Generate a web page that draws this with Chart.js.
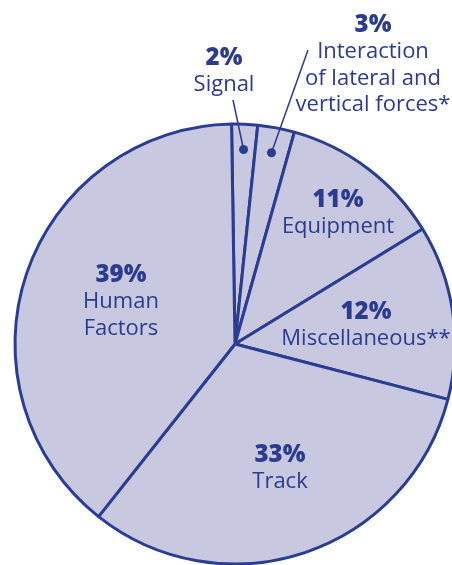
<!DOCTYPE html>
<html>
<head>
<meta charset="utf-8">
<script src="https://cdn.jsdelivr.net/npm/chart.js@4"></script>
<style>
  html, body { margin: 0; padding: 0; background: #fff; overflow: hidden; }
  #wrap { width: 452px; height: 565px; overflow: hidden; position: relative; }
  canvas { position: absolute; left: 0; top: 0; }
</style>
</head>
<body>
<div id="wrap"><canvas id="causeChart" width="470" height="565"></canvas></div>
<script>
// slice sizes as drawn in the picture (share of the circle, %)
const categories = ["Signal", "Interaction of lateral and vertical forces*", "Equipment", "Miscellaneous**", "Track", "Human Factors"];
const sliceValues = [1.9, 2.7, 11.9, 12.8, 31.6, 39.1];
// printed percentages
const percentLabels = ["2%", "3%", "11%", "12%", "33%", "39%"];
const nameLines = [
  ["Signal"],
  ["Interaction", "of lateral and", "vertical forces*"],
  ["Equipment"],
  ["Miscellaneous**"],
  ["Track"],
  ["Human", "Factors"],
];

const INK = "#2a3b90";
const FONT = "'Open Sans', sans-serif";

// where each label block sits, relative to the pie centre (px)
const labelSpots = [
  { x: -11, y: -286, lead: [-2, -244] },
  { x: 138, y: -319, lead: [73, -294] },
  { x: 103, y: -144 },
  { x: 131, y: -32 },
  { x: 45, y: 111 },
  { x: -114, y: -69 },
];

const pieLabels = {
  id: "pieLabels",
  afterDraw(chart) {
    const ctx = chart.ctx;
    const arcs = chart.getDatasetMeta(0).data;
    ctx.save();
    ctx.fillStyle = INK;
    ctx.strokeStyle = INK;
    ctx.textAlign = "center";
    ctx.textBaseline = "middle";
    arcs.forEach((arc, i) => {
      const spot = labelSpots[i];
      const cx = arc.x, cy = arc.y;
      if (spot.lead) {
        // leader line to a dot inside the thin slice
        const mid = (arc.startAngle + arc.endAngle) / 2;
        const r = arc.outerRadius * 0.885;
        const dx = cx + Math.cos(mid) * r;
        const dy = cy + Math.sin(mid) * r;
        ctx.lineWidth = 1.5;
        ctx.beginPath();
        ctx.moveTo(cx + spot.lead[0], cy + spot.lead[1]);
        ctx.lineTo(dx, dy);
        ctx.stroke();
        ctx.beginPath();
        ctx.arc(dx, dy, 4.5, 0, Math.PI * 2);
        ctx.fill();
      }
      ctx.font = "800 24px " + FONT;
      ctx.fillText(percentLabels[i], cx + spot.x, cy + spot.y);
      ctx.font = "22px " + FONT;
      nameLines[i].forEach((line, j) => {
        ctx.fillText(line, cx + spot.x, cy + spot.y + 27 + j * 26.5);
      });
    });
    ctx.restore();
  },
};

new Chart(document.getElementById("causeChart"), {
  type: "pie",
  data: {
    labels: categories,
    datasets: [
      {
        data: sliceValues,
        backgroundColor: "#c8c9e1",
        borderColor: "#2a3d92",
        borderWidth: 3,
        radius: 220,
      },
    ],
  },
  options: {
    responsive: false,
    animation: false,
    rotation: -0.9,
    layout: {
      padding: { left: 15, right: 15, top: 124, bottom: 1 },
    },
    plugins: {
      legend: { display: false },
      tooltip: { enabled: false },
    },
  },
  plugins: [pieLabels],
});
</script>
</body>
</html>
